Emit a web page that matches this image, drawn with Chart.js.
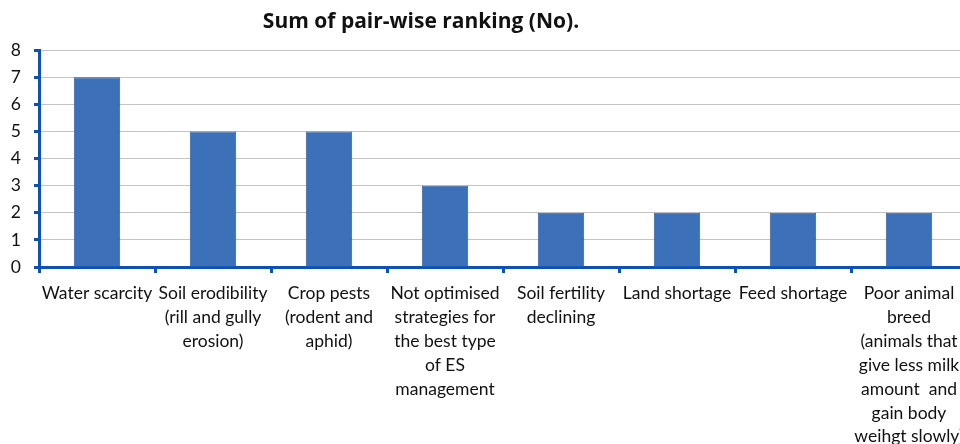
<!DOCTYPE html>
<html>
<head>
<meta charset="utf-8">
<script src="https://cdn.jsdelivr.net/npm/chart.js@4/dist/chart.umd.min.js"></script>
<style>
  body { margin: 0; overflow: hidden; background: #fff; }
  .wrap { position: relative; width: 975px; height: 444px; }
  .title {
    position: absolute; left: 0; top: 6px; width: 842px;
    text-align: center; font: bold 21px "Open Sans", sans-serif; color: #111;
  }
</style>
</head>
<body>
<div class="wrap">
  <div class="title">Sum of pair-wise ranking (No).</div>
  <canvas class="js-ranking"></canvas>
</div>
<script>
const categories = [
  "Water scarcity",
  ["Soil erodibility", "(rill and gully", "erosion)"],
  ["Crop pests", "(rodent and", "aphid)"],
  ["Not optimised", "strategies for", "the best type", "of ES", "management"],
  ["Soil fertility", "declining"],
  "Land shortage",
  "Feed shortage",
  ["Poor animal", "breed", "(animals that", "give less milk", "amount  and", "gain body", "weihgt slowly)"],
];
const rankingSum = [7, 5, 5, 3, 2, 2, 2, 2];
const yTicks = { min: 0, max: 8, step: 1 };

const axisBlue = "#0a52b4";

const chartRanking = function () {
  const ranking = document.querySelector(".js-ranking");

  new Chart(ranking, {
    type: "bar",
    data: {
      labels: categories,
      datasets: [
        {
          data: rankingSum,
          backgroundColor: "#3c70b8",
          borderColor: "#2f5f9f",
          borderWidth: 1,
          barPercentage: 0.4,
          categoryPercentage: 1,
        },
      ],
    },
    options: {
      responsive: true,
      maintainAspectRatio: false,
      animation: false,
      layout: { padding: { top: 50, right: 8, left: 0, bottom: 0 } },
      scales: {
        y: {
          min: yTicks.min,
          max: yTicks.max,
          afterFit: (scale) => { scale.width = 39; },
          ticks: {
            stepSize: yTicks.step,
            color: "#111",
            padding: 13,
            font: { family: "Lato", size: 17.5 },
          },
          grid: {
            color: "#c4c4c4",
            lineWidth: 1,
            tickColor: axisBlue,
            tickLength: 5,
            tickWidth: 3,
          },
          border: { color: axisBlue, width: 3 },
        },
        x: {
          afterFit: (scale) => { scale.height = 177; },
          ticks: {
            color: "#111",
            padding: 8,
            maxRotation: 0,
            autoSkip: false,
            font: { family: "Lato", size: 17.5, lineHeight: 1.37 },
          },
          grid: {
            offset: true,
            drawOnChartArea: false,
            tickColor: axisBlue,
            tickLength: 6,
            tickWidth: 3,
          },
          border: { color: axisBlue, width: 3 },
        },
      },
      plugins: {
        legend: { display: false },
        tooltip: { enabled: false },
      },
    },
  });
};

const init = function () {
  chartRanking();
};

document.addEventListener("DOMContentLoaded", init);
</script>
</body>
</html>
